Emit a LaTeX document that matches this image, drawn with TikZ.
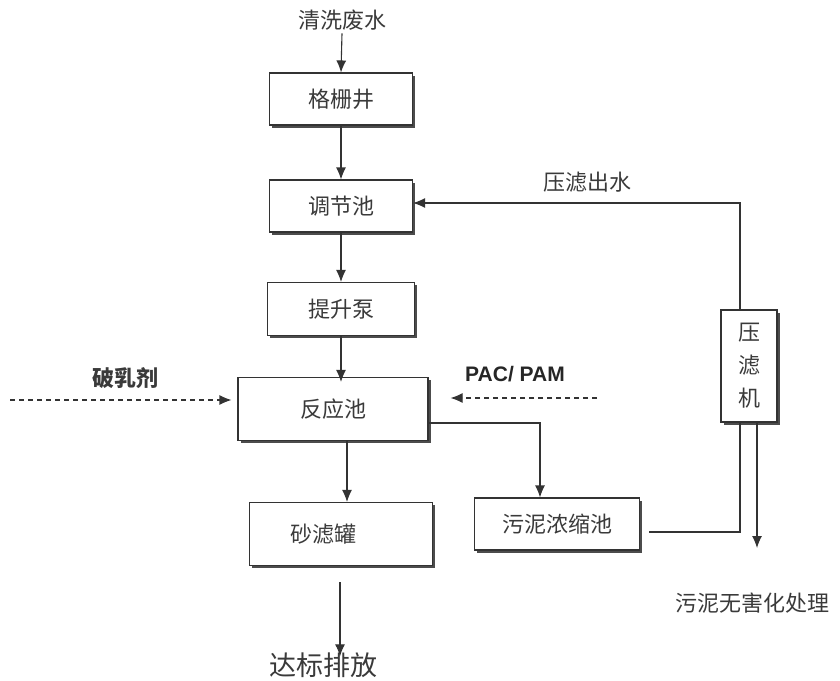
\documentclass[tikz,border=0pt]{standalone}
\usepackage{fontspec}
\newfontfamily\cjk{Noto Sans CJK SC}
\newfontfamily\lat{Liberation Sans}
\usetikzlibrary{arrows.meta,shadows}
\definecolor{ink}{HTML}{333333}
\definecolor{txt}{HTML}{3A3A3A}
\tikzset{
  x=1pt,y=-1pt,
  box/.style={draw=ink,line width=1.1pt,fill=white,rectangle,inner sep=0pt,
    font=\cjk\fontsize{22}{24}\selectfont,text=txt,
    drop shadow={shadow xshift=2.5pt,shadow yshift=-2.5pt,fill=black!70,opacity=1}},
  lbl/.style={font=\cjk\fontsize{22}{24}\selectfont,text=txt,inner sep=0pt},
  line/.style={draw=ink,line width=1.1pt},
  flow/.style={line,-{Latex[length=12pt,width=10pt]}},
  dflow/.style={line,dash pattern=on 5pt off 4pt,-{Latex[length=12pt,width=10pt]}}
}
\begin{document}
\begin{tikzpicture}
\useasboundingbox (0,0) rectangle (840,680);
% boxes
\node[box,minimum width=143pt,minimum height=52pt] (gs) at (341,99) {格栅井};
\node[box,minimum width=143pt,minimum height=52pt] (tj) at (341,206) {调节池};
\node[box,minimum width=147pt,minimum height=53pt] (ts) at (341,309) {提升泵};
\node[box,minimum width=190pt,minimum height=63pt] (fy) at (333,409) {反应池};
\node[box,minimum width=183pt,minimum height=63pt] (sl) at (341,534) {\hspace*{-36pt}砂滤罐};
\node[box,minimum width=165pt,minimum height=52pt] (wn) at (557,524) {污泥浓缩池};
\node[box,minimum width=56pt,minimum height=112pt,align=center,font=\cjk\fontsize{22}{33}\selectfont] (yl) at (749,366) {压\\滤\\机};
% labels
\node[lbl] (in) at (342,20) {清洗废水};
\node[lbl,font=\cjk\fontsize{27}{29}\selectfont] (out) at (323,665) {达标排放};
\node[lbl,font=\cjk\bfseries\fontsize{22}{24}\selectfont] (pr) at (125,378) {破乳剂};
\node[lbl,font=\lat\bfseries\fontsize{21}{23}\selectfont,text=black!85] (pac) at (515,374) {PAC/ PAM};
\node[lbl] (ylcs) at (587,182) {压滤出水};
\node[lbl] (wh) at (752,603) {污泥无害化处理};
\coordinate (prs) at (10,400);
\coordinate (pacs) at (597,398);
\coordinate (whs) at (757,548);
% connectors
\draw[flow] (in.south) ++(0,3) -- (gs.north);
\draw[flow] (gs) -- (tj);
\draw[flow] (tj) -- (ts);
\draw[flow] (ts.south) -- ([yshift=-5pt]fy.north -| ts.south);
\draw[flow] (fy.south -| 347,0) -- (sl.north -| 347,0);
\draw[flow,shorten <=16pt] (sl.south -| 340,0) -- ([yshift=-4pt]out.north -| 340,0);
\draw[flow] ([yshift=-14pt]fy.east) -| (wn.north -| 540,0);
\draw[line,shorten <=9pt] ([yshift=-8pt]wn.east) -| (yl.south -| 740,0);
\draw[flow] (yl.north -| 740,0) |- ([yshift=3pt]tj.east);
\draw[flow] (yl.south -| 757,0) -- (whs);
\draw[dflow,shorten >=6pt] (prs) -- (prs -| fy.west);
\draw[dflow,shorten >=22pt] (pacs) -- (pacs -| fy.east);
\end{tikzpicture}
\end{document}
